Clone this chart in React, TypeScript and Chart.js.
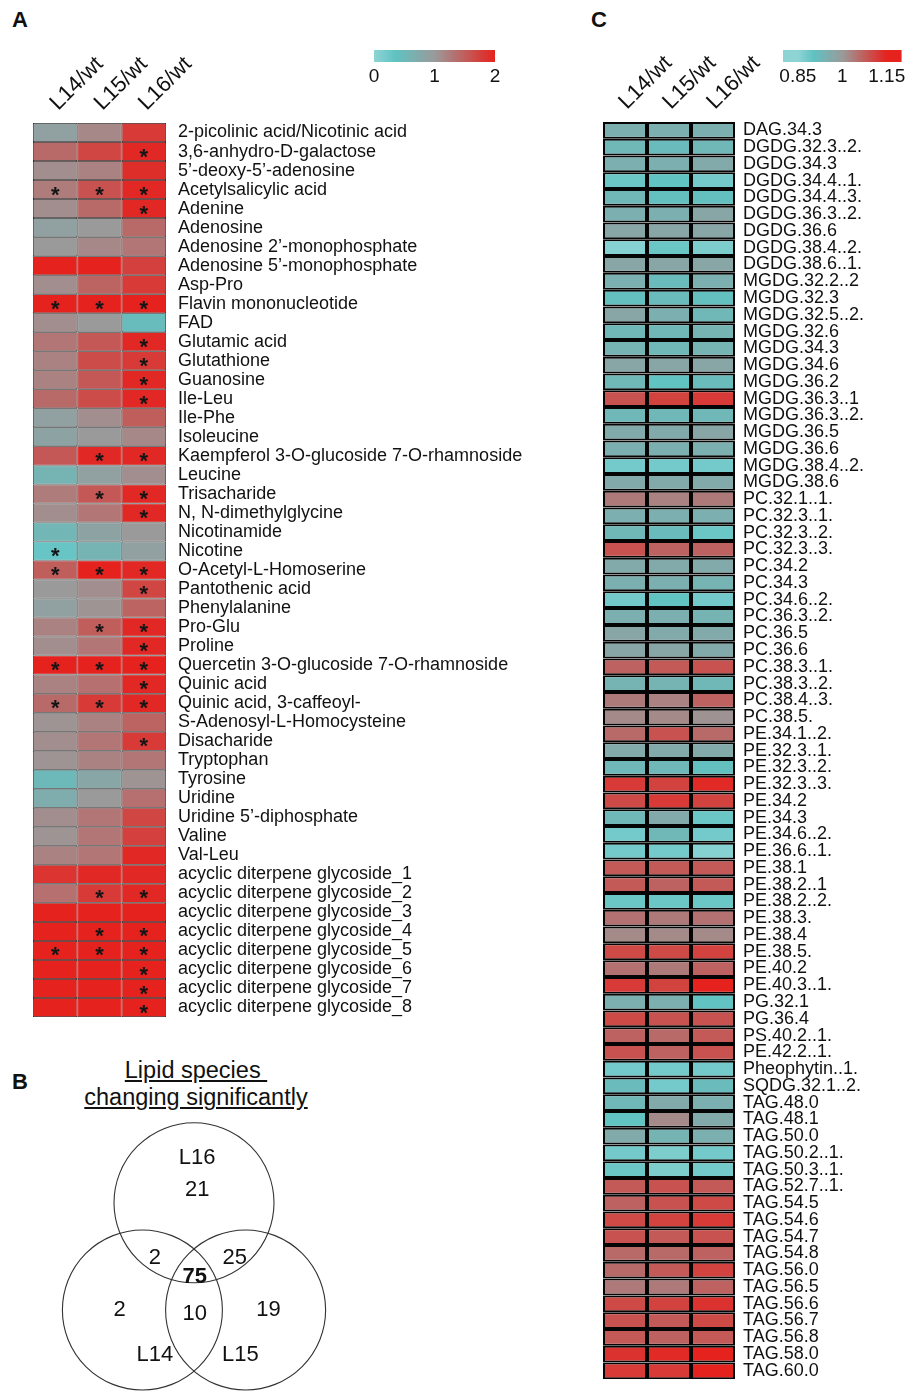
import React, { useEffect, useRef } from 'react';
import { Chart, registerables } from 'chart.js';
Chart.register(...registerables);

// ---------------- DATA ----------------
const columnLabels = ['L14/wt', 'L15/wt', 'L16/wt'];

const metabolites = [
  '2-picolinic acid/Nicotinic acid', '3,6-anhydro-D-galactose', '5\u2019-deoxy-5\u2019-adenosine', 'Acetylsalicylic acid',
  'Adenine', 'Adenosine', 'Adenosine 2\u2019-monophosphate', 'Adenosine 5\u2019-monophosphate', 'Asp-Pro',
  'Flavin mononucleotide', 'FAD', 'Glutamic acid', 'Glutathione', 'Guanosine', 'Ile-Leu', 'Ile-Phe', 'Isoleucine',
  'Kaempferol 3-O-glucoside 7-O-rhamnoside', 'Leucine', 'Trisacharide', 'N, N-dimethylglycine', 'Nicotinamide',
  'Nicotine', 'O-Acetyl-L-Homoserine', 'Pantothenic acid', 'Phenylalanine', 'Pro-Glu', 'Proline',
  'Quercetin 3-O-glucoside 7-O-rhamnoside', 'Quinic acid', 'Quinic acid, 3-caffeoyl-', 'S-Adenosyl-L-Homocysteine',
  'Disacharide', 'Tryptophan', 'Tyrosine', 'Uridine', 'Uridine 5\u2019-diphosphate', 'Valine', 'Val-Leu',
  'acyclic diterpene glycoside_1', 'acyclic diterpene glycoside_2', 'acyclic diterpene glycoside_3',
  'acyclic diterpene glycoside_4', 'acyclic diterpene glycoside_5', 'acyclic diterpene glycoside_6',
  'acyclic diterpene glycoside_7', 'acyclic diterpene glycoside_8',
];
const metL14 = [0.9, 1.4, 1.1, 1.25, 1.1, 0.9, 1.0, 2.0, 1.1, 2.0, 1.1, 1.3, 1.2, 1.2, 1.4, 0.9, 0.85, 1.55, 0.6, 1.25,
  1.1, 0.55, 0.3, 1.5, 1.0, 0.9, 1.2, 1.1, 2.0, 1.2, 1.4, 1.05, 1.1, 1.05, 0.5, 0.7, 1.1, 1.05, 1.2, 1.85, 1.35,
  2.0, 2.0, 2.0, 2.0, 2.0, 2.0];
const metL15 = [1.15, 1.7, 1.2, 1.6, 1.4, 1.0, 1.15, 2.0, 1.45, 2.0, 1.0, 1.55, 1.65, 1.55, 1.65, 1.1, 1.0, 1.95, 0.9, 1.55,
  1.3, 0.85, 0.6, 2.0, 1.1, 1.05, 1.5, 1.3, 2.0, 1.35, 1.8, 1.2, 1.3, 1.2, 0.8, 1.0, 1.3, 1.3, 1.3, 1.95, 1.8,
  2.0, 2.0, 2.0, 2.0, 2.0, 2.0];
const metL16 = [1.8, 1.95, 1.9, 1.95, 1.95, 1.4, 1.3, 1.75, 1.8, 2.0, 0.45, 1.95, 1.8, 1.95, 1.95, 1.5, 1.15, 1.95, 1.1, 1.95,
  1.95, 1.0, 0.9, 1.95, 1.7, 1.45, 1.95, 1.95, 2.0, 1.95, 1.95, 1.45, 1.8, 1.3, 1.05, 1.35, 1.7, 1.75, 1.95, 1.95, 1.95,
  2.0, 2.0, 2.0, 2.0, 2.0, 2.0];
const sigL14 = [0, 0, 0, 1, 0, 0, 0, 0, 0, 1, 0, 0, 0, 0, 0, 0, 0, 0, 0, 0, 0, 0, 1, 1, 0, 0, 0, 0, 1, 0, 1, 0, 0, 0, 0, 0,
  0, 0, 0, 0, 0, 0, 0, 1, 0, 0, 0];
const sigL15 = [0, 0, 0, 1, 0, 0, 0, 0, 0, 1, 0, 0, 0, 0, 0, 0, 0, 1, 0, 1, 0, 0, 0, 1, 0, 0, 1, 0, 1, 0, 1, 0, 0, 0, 0, 0,
  0, 0, 0, 0, 1, 0, 1, 1, 0, 0, 0];
const sigL16 = [0, 1, 0, 1, 1, 0, 0, 0, 0, 1, 0, 1, 1, 1, 1, 0, 0, 1, 0, 1, 1, 0, 0, 1, 1, 0, 1, 1, 1, 1, 1, 0, 1, 0, 0, 0,
  0, 0, 0, 0, 1, 0, 1, 1, 1, 1, 1];

const lipids = [
  'DAG.34.3', 'DGDG.32.3..2.', 'DGDG.34.3', 'DGDG.34.4..1.', 'DGDG.34.4..3.', 'DGDG.36.3..2.', 'DGDG.36.6',
  'DGDG.38.4..2.', 'DGDG.38.6..1.', 'MGDG.32.2..2', 'MGDG.32.3', 'MGDG.32.5..2.', 'MGDG.32.6', 'MGDG.34.3',
  'MGDG.34.6', 'MGDG.36.2', 'MGDG.36.3..1', 'MGDG.36.3..2.', 'MGDG.36.5', 'MGDG.36.6', 'MGDG.38.4..2.', 'MGDG.38.6',
  'PC.32.1..1.', 'PC.32.3..1.', 'PC.32.3..2.', 'PC.32.3..3.', 'PC.34.2', 'PC.34.3', 'PC.34.6..2.', 'PC.36.3..2.',
  'PC.36.5', 'PC.36.6', 'PC.38.3..1.', 'PC.38.3..2.', 'PC.38.4..3.', 'PC.38.5.', 'PE.34.1..2.', 'PE.32.3..1.',
  'PE.32.3..2.', 'PE.32.3..3.', 'PE.34.2', 'PE.34.3', 'PE.34.6..2.', 'PE.36.6..1.', 'PE.38.1', 'PE.38.2..1',
  'PE.38.2..2.', 'PE.38.3.', 'PE.38.4', 'PE.38.5.', 'PE.40.2', 'PE.40.3..1.', 'PG.32.1', 'PG.36.4', 'PS.40.2..1.',
  'PE.42.2..1.', 'Pheophytin..1.', 'SQDG.32.1..2.', 'TAG.48.0', 'TAG.48.1', 'TAG.50.0', 'TAG.50.2..1.',
  'TAG.50.3..1.', 'TAG.52.7..1.', 'TAG.54.5', 'TAG.54.6', 'TAG.54.7', 'TAG.54.8', 'TAG.56.0', 'TAG.56.5',
  'TAG.56.6', 'TAG.56.7', 'TAG.56.8', 'TAG.58.0', 'TAG.60.0',
];
const lipL14 = [0.95, 0.93, 0.95, 0.89, 0.93, 0.95, 0.97, 0.86, 0.97, 0.95, 0.91, 0.97, 0.93, 0.94, 0.97, 0.93, 1.09,
  0.93, 0.96, 0.95, 0.88, 0.96, 1.04, 0.95, 0.93, 1.09, 0.96, 0.95, 0.88, 0.95, 0.97, 0.97, 1.07, 0.94, 1.04, 1.02,
  1.06, 0.96, 0.93, 1.12, 1.10, 0.93, 0.88, 0.88, 1.08, 1.08, 0.89, 1.05, 1.02, 1.10, 1.05, 1.12, 0.95, 1.10, 1.07,
  1.09, 0.88, 0.92, 0.93, 0.90, 0.96, 0.88, 0.89, 1.08, 1.07, 1.10, 1.09, 1.06, 1.06, 1.04, 1.10, 1.09, 1.08, 1.13, 1.12];
const lipL15 = [0.95, 0.92, 0.95, 0.90, 0.91, 0.95, 0.97, 0.89, 0.97, 0.92, 0.92, 0.95, 0.93, 0.93, 0.97, 0.90, 1.11,
  0.93, 0.96, 0.95, 0.88, 0.96, 1.03, 0.95, 0.92, 1.07, 0.96, 0.95, 0.90, 0.95, 0.96, 0.97, 1.08, 0.94, 1.03, 1.02,
  1.09, 0.96, 0.93, 1.11, 1.12, 0.96, 0.93, 0.88, 1.08, 1.07, 0.89, 1.04, 1.02, 1.10, 1.04, 1.11, 0.95, 1.09, 1.06,
  1.07, 0.88, 0.88, 0.96, 1.02, 0.94, 0.87, 0.87, 1.09, 1.09, 1.11, 1.08, 1.06, 1.08, 1.04, 1.11, 1.08, 1.07, 1.14, 1.12];
const lipL16 = [0.95, 0.93, 0.96, 0.88, 0.91, 0.97, 0.97, 0.87, 0.97, 0.95, 0.91, 0.93, 0.94, 0.94, 0.97, 0.92, 1.12,
  0.93, 0.97, 0.95, 0.88, 0.96, 1.04, 0.95, 0.89, 1.07, 0.96, 0.94, 0.88, 0.94, 0.96, 0.96, 1.09, 0.93, 1.07, 1.01,
  1.06, 0.96, 0.91, 1.14, 1.11, 0.89, 0.88, 0.86, 1.08, 1.08, 0.89, 1.05, 1.02, 1.11, 1.07, 1.15, 0.90, 1.09, 1.08,
  1.09, 0.88, 0.92, 0.95, 0.96, 0.95, 0.88, 0.88, 1.08, 1.10, 1.12, 1.09, 1.07, 1.11, 1.07, 1.13, 1.10, 1.08, 1.15, 1.15];

const legendATicks = [0, 1, 2];
const legendCTicks = [0.85, 1, 1.15];

const vennSetNames = ['L16', 'L14', 'L15'];
const vennRegions = ['L16 only', 'L14+L16', 'L15+L16', 'L14+L15+L16', 'L14 only', 'L14+L15', 'L15 only'];
const vennCounts = [21, 2, 25, 75, 2, 10, 19];

// ---------------- LAYOUT / STYLE ----------------
const FONT = '"Liberation Sans", Arial, Helvetica, sans-serif';
const vennCircleCenters = [[0, 0.62], [-0.645, -0.72], [0.645, -0.72]];
const vennSetNamePos = [[0.04, 1.18], [-0.49, -1.28], [0.58, -1.28]];
const vennRegionPos = [[0.04, 0.78], [-0.49, -0.07], [0.51, -0.07], [0.01, -0.31], [-0.93, -0.72], [0.01, -0.77], [0.93, -0.72]];

type RGB = [number, number, number];
const rampColors: RGB[] = [[143, 212, 212], [96, 194, 194], [154, 154, 154], [230, 34, 30]];
function makeRamp(stops: number[]) {
  const css = (c: number[]) => `rgb(${Math.round(c[0])},${Math.round(c[1])},${Math.round(c[2])})`;
  return (v: number) => {
    if (v <= stops[0]) return css(rampColors[0]);
    for (let i = 1; i < stops.length; i++) {
      if (v <= stops[i]) {
        const t = (v - stops[i - 1]) / (stops[i] - stops[i - 1]);
        const a = rampColors[i - 1], b = rampColors[i];
        return css([a[0] + (b[0] - a[0]) * t, a[1] + (b[1] - a[1]) * t, a[2] + (b[2] - a[2]) * t]);
      }
    }
    return css(rampColors[rampColors.length - 1]);
  };
}
const colorA = makeRamp([0, 0.35, 1, 2]);
const colorC = makeRamp([0.85, 0.9025, 1, 1.15]);

interface HeatOpts {
  padLeft: number; padTop: number; padBottom: number; axisWidth: number;
  borderWidth: number; borderColor: string; labelSize: number; labelPadding: number;
  headerSize: number; headerDx: number; headerGap: number;
}

function heatmapConfig(rows: string[], cols: number[][], colorOf: (v: number) => string, o: HeatOpts, sig?: number[][]): any {
  const overlayPlugin = {
    id: 'heatOverlay',
    afterDatasetsDraw(chart: any) {
      const { ctx, scales, chartArea } = chart;
      ctx.save();
      // significance marks
      if (sig) {
        ctx.fillStyle = '#151515';
        ctx.font = `bold 22px ${FONT}`;
        ctx.textAlign = 'center';
        ctx.textBaseline = 'middle';
        sig.forEach((flags, ci) => flags.forEach((f, ri) => {
          if (!f) return;
          ctx.fillText('*', scales.x.getPixelForValue(ci + 0.5), scales.y.getPixelForValue(ri) + 6);
        }));
      }
      // rotated column headers
      ctx.fillStyle = '#111';
      ctx.font = `${o.headerSize}px ${FONT}`;
      ctx.textAlign = 'left';
      ctx.textBaseline = 'alphabetic';
      columnLabels.forEach((lab, ci) => {
        ctx.save();
        ctx.translate(scales.x.getPixelForValue(ci + 0.5) + o.headerDx, chartArea.top - o.headerGap);
        ctx.rotate(-Math.PI / 4);
        ctx.fillText(lab, 0, 0);
        ctx.restore();
      });
      ctx.restore();
    },
  };
  return {
    type: 'bar',
    data: {
      labels: rows,
      datasets: cols.map((vals, ci) => ({
        label: columnLabels[ci],
        data: vals.map(() => 1),
        backgroundColor: vals.map(colorOf),
        borderColor: o.borderColor,
        borderWidth: o.borderWidth,
        borderSkipped: false,
        inflateAmount: 0,
        barPercentage: 1,
        categoryPercentage: 1,
      })),
    },
    options: {
      indexAxis: 'y',
      responsive: false,
      animation: false,
      events: [],
      layout: { padding: { left: o.padLeft, top: o.padTop, bottom: o.padBottom, right: 0 } },
      plugins: { legend: { display: false }, tooltip: { enabled: false } },
      scales: {
        x: { type: 'linear', stacked: true, min: 0, max: 3, display: false },
        y: {
          type: 'category', position: 'right', stacked: true, offset: true,
          grid: { display: false, drawTicks: false }, border: { display: false },
          ticks: { autoSkip: false, color: '#111', padding: o.labelPadding, font: { family: FONT, size: o.labelSize } },
          afterFit: (s: any) => { s.width = o.axisWidth; },
        },
      },
    },
    plugins: [overlayPlugin],
  };
}

function legendConfig(min: number, max: number, ticksAt: number[], colorOf: (v: number) => string, pad: any): any {
  const gradientPlugin = {
    id: 'gradientBar',
    beforeDatasetsDraw(chart: any) {
      const { ctx, chartArea, scales } = chart;
      const sx = scales.x;
      const g = ctx.createLinearGradient(chartArea.left, 0, chartArea.right, 0);
      const n = 60;
      for (let i = 0; i <= n; i++) {
        const v = sx.getValueForPixel(chartArea.left + (chartArea.width * i) / n);
        g.addColorStop(i / n, colorOf(v));
      }
      ctx.save();
      ctx.fillStyle = g;
      ctx.fillRect(chartArea.left, chartArea.top, chartArea.width, chartArea.height);
      ctx.restore();
    },
  };
  return {
    type: 'scatter',
    data: { datasets: [] },
    options: {
      responsive: false,
      animation: false,
      events: [],
      layout: { padding: pad },
      plugins: { legend: { display: false }, tooltip: { enabled: false } },
      scales: {
        x: {
          type: 'linear', min, max, position: 'bottom',
          grid: { display: false, drawTicks: false }, border: { display: false },
          afterBuildTicks: (s: any) => { s.ticks = ticksAt.map((v) => ({ value: v })); },
          ticks: { padding: 3, color: '#111', font: { family: FONT, size: 19 }, callback: (v: any) => String(v) },
          afterFit: (s: any) => { s.height = 33; },
        },
        y: { display: false, min: 0, max: 1 },
      },
    },
    plugins: [gradientPlugin],
  };
}

function vennConfig(): any {
  const labelPlugin = {
    id: 'vennLabels',
    afterDatasetsDraw(chart: any) {
      const { ctx, scales } = chart;
      ctx.save();
      ctx.fillStyle = '#111';
      ctx.textAlign = 'center';
      ctx.textBaseline = 'middle';
      vennSetNames.forEach((name, i) => {
        ctx.font = `22px ${FONT}`;
        ctx.fillText(name, scales.x.getPixelForValue(vennSetNamePos[i][0]), scales.y.getPixelForValue(vennSetNamePos[i][1]));
      });
      vennCounts.forEach((c, i) => {
        ctx.font = `${vennRegions[i] === 'L14+L15+L16' ? 'bold ' : ''}22px ${FONT}`;
        ctx.fillText(String(c), scales.x.getPixelForValue(vennRegionPos[i][0]), scales.y.getPixelForValue(vennRegionPos[i][1]));
      });
      ctx.restore();
    },
  };
  const unitRadius = (ctx: any) => {
    const s = ctx.chart.scales.x;
    const r = s ? s.getPixelForValue(1) - s.getPixelForValue(0) : 0;
    return isFinite(r) ? r : 0;
  };
  return {
    type: 'scatter',
    data: {
      datasets: [{
        label: 'sets',
        data: vennCircleCenters.map(([x, y]) => ({ x, y })),
        showLine: false,
        pointBackgroundColor: 'rgba(0,0,0,0)',
        pointBorderColor: '#333',
        pointBorderWidth: 1.1,
        pointRadius: unitRadius,
        clip: false,
      }],
    },
    options: {
      responsive: false,
      animation: false,
      events: [],
      layout: { padding: 0 },
      plugins: { legend: { display: false }, tooltip: { enabled: false } },
      scales: {
        x: { type: 'linear', min: -1.925, max: 1.95, display: false },
        y: { type: 'linear', min: -1.82, max: 1.78, display: false },
      },
    },
    plugins: [labelPlugin],
  };
}

function ChartCanvas({ make, left, top, width, height }: { make: () => any; left: number; top: number; width: number; height: number }) {
  const ref = useRef<HTMLCanvasElement>(null);
  useEffect(() => {
    const chart = new Chart(ref.current as HTMLCanvasElement, make());
    return () => chart.destroy();
  }, []);
  return (
    <canvas ref={ref} width={width} height={height}
      style={{ position: 'absolute', left, top, width, height }} />
  );
}

const letterStyle: React.CSSProperties = {
  position: 'absolute', fontFamily: FONT, fontWeight: 'bold', fontSize: 22, lineHeight: '22px', color: '#111',
};

export default function App() {
  return (
    <div style={{ position: 'absolute', left: 0, top: 0, width: 909, height: 1398, background: '#fff', overflow: 'hidden' }}>
      <div style={{ ...letterStyle, left: 12, top: 9 }}>A</div>
      <div style={{ ...letterStyle, left: 591, top: 9 }}>C</div>
      <div style={{ ...letterStyle, left: 12, top: 1071 }}>B</div>
      <div style={{
        position: 'absolute', left: 0, top: 1057, width: 392, textAlign: 'center', fontFamily: FONT,
        fontSize: 23.5, lineHeight: '27px', color: '#111', whiteSpace: 'nowrap',
      }}>
        <div><span style={{ textDecoration: 'underline', whiteSpace: 'pre' }}>Lipid species </span></div>
        <div><span style={{ textDecoration: 'underline' }}>changing significantly</span></div>
      </div>

      <ChartCanvas left={0} top={0} width={590} height={1040}
        make={() => heatmapConfig(metabolites, [metL14, metL15, metL16], colorA, {
          padLeft: 33, padTop: 123, padBottom: 23, axisWidth: 424,
          borderWidth: 0.75, borderColor: '#1c1c1c', labelSize: 18, labelPadding: 12,
          headerSize: 22, headerDx: 3, headerGap: 12,
        }, [sigL14, sigL15, sigL16])} />

      <ChartCanvas left={590} top={0} width={319} height={1398}
        make={() => heatmapConfig(lipids, [lipL14, lipL15, lipL16], colorC, {
          padLeft: 13, padTop: 122, padBottom: 3, axisWidth: 174,
          borderWidth: 2, borderColor: '#050505', labelSize: 18, labelPadding: 8,
          headerSize: 22, headerDx: 2, headerGap: 12,
        })} />

      <ChartCanvas left={340} top={40} width={190} height={55}
        make={() => legendConfig(0, 2, legendATicks, colorA, { left: 34, right: 35, top: 10, bottom: 0 })} />

      <ChartCanvas left={770} top={40} width={139} height={55}
        make={() => legendConfig(0.8, 1.2, legendCTicks, colorC, { left: 13, right: 6, top: 10, bottom: 0 })} />

      <ChartCanvas left={40} top={1110} width={310} height={288} make={vennConfig} />
    </div>
  );
}
